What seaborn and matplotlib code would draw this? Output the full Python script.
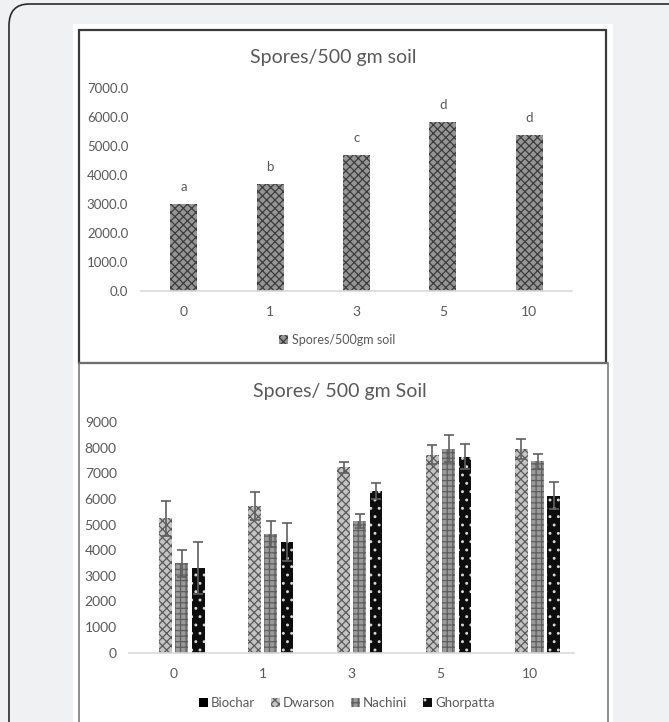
import matplotlib
matplotlib.use("Agg")
import matplotlib.pyplot as plt
from matplotlib.patches import Rectangle, FancyBboxPatch
import seaborn as sns
import pandas as pd
import numpy as np

# ---------------- data ----------------
doses = ["0", "1", "3", "5", "10"]
top_values = [3000, 3680, 4690, 5820, 5390]
top_letters = ["a", "b", "c", "d", "d"]
top_series = "Spores/500gm soil"

series_names = ["Biochar", "Dwarson", "Nachini", "Ghorpatta"]
biochar_vals = [0, 0, 0, 0, 0]
dwarson_vals = [5250, 5740, 7240, 7730, 7960]
nachini_vals = [3490, 4650, 5140, 7960, 7470]
ghorpatta_vals = [3320, 4340, 6320, 7660, 6130]
biochar_err = [0, 0, 0, 0, 0]
dwarson_err = [690, 550, 220, 370, 390]
nachini_err = [520, 510, 260, 530, 280]
ghorpatta_err = [1020, 740, 300, 500, 520]

# ---------------- style ----------------
sns.set_theme(style="white")
plt.rcParams["font.family"] = ["Lato", "DejaVu Sans"]
plt.rcParams["hatch.linewidth"] = 0.9
TXT = "#595959"

W, H = 669, 722
fig = plt.figure(figsize=(W / 100, H / 100), dpi=100)
fig.patch.set_facecolor("#f0f1f3")

def fx(px):
    return px / W

def fy(py):
    return 1 - py / H

# outer page frame
fig.add_artist(FancyBboxPatch((fx(9), fy(760)), fx(700) - fx(9), fy(4) - fy(760),
                              boxstyle="round,pad=0,rounding_size=0.03",
                              transform=fig.transFigure, facecolor="#f0f1f3",
                              edgecolor="#2b2b2b", linewidth=1.2, zorder=-3))
# white sheet
fig.add_artist(Rectangle((fx(73), fy(760)), fx(613) - fx(73), fy(24) - fy(760),
                         transform=fig.transFigure, facecolor="white",
                         edgecolor="none", zorder=-2))
# top chart box
fig.add_artist(Rectangle((fx(79), fy(363)), fx(606) - fx(79), fy(30) - fy(363),
                         transform=fig.transFigure, facecolor="none",
                         edgecolor="#3a3a3a", linewidth=1.6, zorder=5))
# bottom chart box
fig.add_artist(Rectangle((fx(79), fy(760)), fx(608) - fx(79), fy(363) - fy(760),
                         transform=fig.transFigure, facecolor="none",
                         edgecolor="#7a7a7a", linewidth=1.2, zorder=5))

# ---------------- top chart ----------------
ax1 = fig.add_axes([fx(140.7), fy(290.7), fx(572.3) - fx(140.7), fy(88.3) - fy(290.7)])
df_top = pd.DataFrame({"dose": doses, "value": top_values})
sns.barplot(data=df_top, x="dose", y="value", order=doses, ax=ax1, width=0.31,
            color="#9a9a9a", errorbar=None)
for p in ax1.patches:
    p.set_facecolor("#959595")
    p.set_edgecolor("#3c3c3c")
    p.set_hatch("xxxx")
    p.set_linewidth(0)
for p, lab in zip(ax1.patches, top_letters):
    ax1.annotate(lab, (p.get_x() + p.get_width() / 2, p.get_height()),
                 xytext=(0, 8), textcoords="offset points", ha="center",
                 va="bottom", fontsize=9.5, color=TXT)
ax1.set_ylim(0, 7000)
ax1.set_xlim(-0.5, 4.5)
ax1.set_yticks(np.arange(0, 7001, 1000))
ax1.set_yticklabels([f"{v:.1f}" for v in np.arange(0, 7001, 1000)])
ax1.set_xlabel("")
ax1.set_ylabel("")
ax1.set_facecolor("none")
for s in ["top", "right", "left"]:
    ax1.spines[s].set_visible(False)
ax1.spines["bottom"].set_color("#d9d9d9")
ax1.spines["bottom"].set_linewidth(1.2)
ax1.tick_params(axis="y", length=0, pad=9, labelsize=9.5, labelcolor=TXT)
ax1.tick_params(axis="x", length=0, pad=11, labelsize=10, labelcolor=TXT)
fig.text(fx(333), fy(57), "Spores/500 gm soil", ha="center", va="center",
         fontsize=14, color=TXT)
ax1.legend([ax1.containers[0]], [top_series], loc="center",
           bbox_to_anchor=(fx(337), fy(339.5)), bbox_transform=fig.transFigure,
           frameon=False, fontsize=9, handlelength=0.7, handleheight=0.7,
           handletextpad=0.3, labelcolor=TXT)

# ---------------- bottom chart ----------------
ax2 = fig.add_axes([fx(129.3), fy(652.7), fx(574) - fx(129.3), fy(422.3) - fy(652.7)])
rows = []
all_vals = [biochar_vals, dwarson_vals, nachini_vals, ghorpatta_vals]
all_errs = [biochar_err, dwarson_err, nachini_err, ghorpatta_err]
for name, vals in zip(series_names, all_vals):
    for d, v in zip(doses, vals):
        rows.append({"dose": d, "series": name, "value": v})
df_bot = pd.DataFrame(rows)
sns.barplot(data=df_bot, x="dose", y="value", hue="series", order=doses,
            hue_order=series_names, ax=ax2, width=0.73, gap=0.21,
            palette=["#000000", "#b0b0b0", "#8a8a8a", "#111111"], errorbar=None,
            legend=False)
styles = [
    dict(face="#000000", hatch=None, hc="#000000"),
    dict(face="#c4c4c4", hatch="xxxx", hc="#5a5a5a"),
    dict(face="#9a9a9a", hatch="+++", hc="#5e5e5e"),
    dict(face="#0d0d0d", hatch="..", hc="#d8d8d8"),
]
for cont, st in zip(ax2.containers, styles):
    for p in cont:
        p.set_facecolor(st["face"])
        p.set_edgecolor(st["hc"])
        if st["hatch"]:
            p.set_hatch(st["hatch"])
        p.set_linewidth(0)
for cont, errs in zip(ax2.containers[1:], all_errs[1:]):
    xs = [p.get_x() + p.get_width() / 2 for p in cont]
    ys = [p.get_height() for p in cont]
    ax2.errorbar(xs, ys, yerr=errs, fmt="none", ecolor="#5f5f5f", elinewidth=1.2,
                 capsize=3.5, capthick=1.2, zorder=4)
ax2.set_ylim(0, 9000)
ax2.set_xlim(-0.5, 4.5)
ax2.set_yticks(np.arange(0, 9001, 1000))
ax2.set_xlabel("")
ax2.set_ylabel("")
ax2.set_facecolor("none")
for s in ["top", "right", "left"]:
    ax2.spines[s].set_visible(False)
ax2.spines["bottom"].set_color("#d9d9d9")
ax2.spines["bottom"].set_linewidth(1.2)
ax2.tick_params(axis="y", length=0, pad=9, labelsize=10, labelcolor=TXT)
ax2.tick_params(axis="x", length=0, pad=11, labelsize=10, labelcolor=TXT)
fig.text(fx(340), fy(391), "Spores/ 500 gm Soil", ha="center", va="center",
         fontsize=14, color=TXT)
ax2.legend(list(ax2.containers), series_names, loc="center", ncol=4,
           bbox_to_anchor=(fx(347), fy(703)), bbox_transform=fig.transFigure,
           frameon=False, fontsize=9.5, handlelength=0.7, handleheight=0.7,
           handletextpad=0.2, columnspacing=1.2, labelcolor=TXT)

fig.savefig("out.png", dpi=100, facecolor=fig.get_facecolor())
